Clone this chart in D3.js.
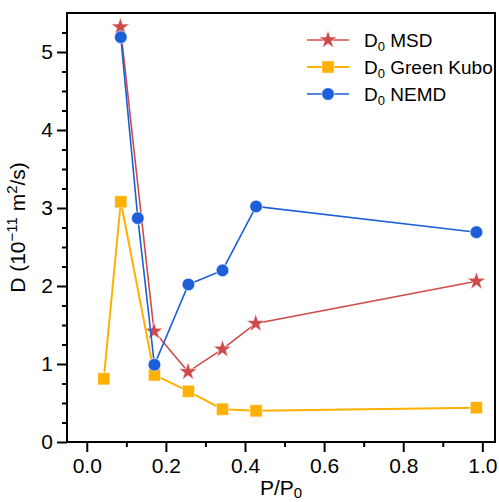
<!DOCTYPE html>
<html>
<head>
<meta charset="utf-8">
<script src="https://cdn.jsdelivr.net/npm/d3@7"></script>
<style>
  html, body { margin: 0; padding: 0; background: #fff; }
  svg { display: block; font-family: "Liberation Sans", Arial, sans-serif; }
</style>
</head>
<body>
<svg id="chart" width="499" height="502"></svg>
<script>
// ---- data ----
const msdX = [0.085, 0.170, 0.256, 0.343, 0.427, 0.985];
const msdY = [5.32, 1.42, 0.90, 1.19, 1.52, 2.06];

const gkX = [0.043, 0.086, 0.171, 0.257, 0.343, 0.428, 0.985];
const gkY = [0.81, 3.08, 0.86, 0.65, 0.42, 0.40, 0.44];

const nemdX = [0.086, 0.129, 0.171, 0.257, 0.343, 0.428, 0.985];
const nemdY = [5.19, 2.87, 0.99, 2.02, 2.20, 3.02, 2.69];

const xTicks = [0.0, 0.2, 0.4, 0.6, 0.8, 1.0];
const xTickLabels = ["0.0", "0.2", "0.4", "0.6", "0.8", "1.0"];
const xMinor = [0.1, 0.3, 0.5, 0.7, 0.9];
const yTicks = [0, 1, 2, 3, 4, 5];
const yTickLabels = ["0", "1", "2", "3", "4", "5"];
const yMinor = [0.25, 0.5, 0.75, 1.25, 1.5, 1.75, 2.25, 2.5, 2.75, 3.25, 3.5, 3.75, 4.25, 4.5, 4.75, 5.25];

const seriesNames = ["MSD", "Green Kubo", "NEMD"];
const colors = ["#cf4a4a", "#ffb000", "#1c5fd8"];

// ---- layout ----
const svg = d3.select("#chart");
const L = 67, R = 495, T = 13, B = 442;
const x = d3.scaleLinear().domain([-0.05, 1.032]).range([L, R]);
const y = d3.scaleLinear().domain([0, 5.5]).range([B, T]);

// axes
const fontSize = 21;
const gx = svg.append("g").attr("transform", `translate(0,${B})`)
  .call(d3.axisBottom(x).tickValues(xTicks).tickFormat((d, i) => xTickLabels[i]).tickSize(10).tickPadding(6));
const gxm = svg.append("g").attr("transform", `translate(0,${B})`)
  .call(d3.axisBottom(x).tickValues(xMinor).tickFormat("").tickSize(5));
const gy = svg.append("g").attr("transform", `translate(${L},0)`)
  .call(d3.axisLeft(y).tickValues(yTicks).tickFormat((d, i) => yTickLabels[i]).tickSize(10).tickPadding(4));
const gym = svg.append("g").attr("transform", `translate(${L},0)`)
  .call(d3.axisLeft(y).tickValues(yMinor).tickFormat("").tickSize(5));
[gx, gxm, gy, gym].forEach(g => {
  g.select(".domain").remove();
  g.selectAll("line").attr("stroke", "#000").attr("stroke-width", 2);
  g.selectAll("text").attr("font-size", fontSize).attr("fill", "#000")
    .attr("font-family", "Liberation Sans, Arial, sans-serif");
});

// clip for data
svg.append("clipPath").attr("id", "clip").append("rect")
  .attr("x", L).attr("y", T).attr("width", R - L).attr("height", B - T);

const line = d3.line().x(d => x(d[0])).y(d => y(d[1]));
const allSeries = [
  { xs: msdX, ys: msdY, sym: d3.symbolStar, size: 105, lw: 1.6 },
  { xs: gkX, ys: gkY, sym: d3.symbolSquare, size: 150, lw: 2 },
  { xs: nemdX, ys: nemdY, sym: d3.symbolCircle, size: 125, lw: 1.6 }
];

const plot = svg.append("g").attr("clip-path", "url(#clip)");
allSeries.forEach((s, i) => {
  const pts = s.xs.map((v, j) => [v, s.ys[j]]);
  plot.append("path").datum(pts).attr("d", line)
    .attr("fill", "none").attr("stroke", colors[i]).attr("stroke-width", s.lw);
  plot.selectAll(null).data(pts).enter().append("path")
    .attr("transform", d => `translate(${x(d[0])},${y(d[1])})`)
    .attr("d", d3.symbol().type(s.sym).size(s.size))
    .attr("fill", colors[i]).attr("stroke", "#fff").attr("stroke-width", 0.6);
});

// frame
svg.append("rect").attr("x", L).attr("y", T).attr("width", R - L).attr("height", B - T)
  .attr("fill", "none").attr("stroke", "#000").attr("stroke-width", 2);

// axis labels
const xl = svg.append("text").attr("x", (L + R) / 2).attr("y", 495)
  .attr("text-anchor", "middle").attr("font-size", fontSize);
xl.append("tspan").text("P/P");
xl.append("tspan").attr("font-size", 15).attr("dy", 3).text("0");

const yl = svg.append("text")
  .attr("transform", `translate(25,${(T + B) / 2}) rotate(-90)`)
  .attr("text-anchor", "middle").attr("font-size", fontSize);
yl.append("tspan").text("D (10");
yl.append("tspan").attr("font-size", 15).attr("dy", -8).text("\u221211");
yl.append("tspan").attr("dy", 8).text(" m");
yl.append("tspan").attr("font-size", 15).attr("dy", -8).text("2");
yl.append("tspan").attr("dy", 8).text("/s)");

// legend
const leg = svg.append("g");
const legY = [40, 67, 94];
allSeries.forEach((s, i) => {
  const g = leg.append("g").attr("transform", `translate(0,${legY[i]})`);
  g.append("line").attr("x1", 307).attr("x2", 349).attr("y1", 0).attr("y2", 0)
    .attr("stroke", colors[i]).attr("stroke-width", s.lw);
  g.append("path").attr("transform", "translate(328,0)")
    .attr("d", d3.symbol().type(s.sym).size(s.size))
    .attr("fill", colors[i]).attr("stroke", "#fff").attr("stroke-width", 0.6);
  const t = g.append("text").attr("x", 364).attr("y", 7).attr("font-size", 19);
  t.append("tspan").text("D");
  t.append("tspan").attr("font-size", 13).attr("dy", 4).text("0");
  t.append("tspan").attr("dy", -4).text(" " + seriesNames[i]);
});
</script>
</body>
</html>
